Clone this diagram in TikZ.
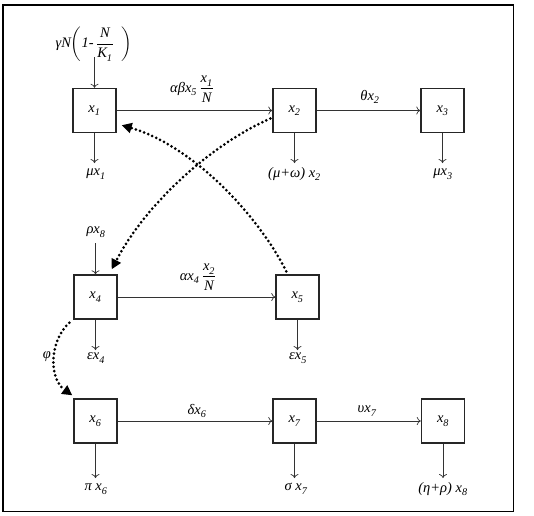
\documentclass[tikz,border=0pt]{standalone}
\usepackage{amsmath}
\usepackage{fontspec}
\setmainfont{Liberation Serif}
\usetikzlibrary{arrows.meta}
\newcommand{\vs}[2]{#1\textsubscript{\raisebox{-0.3ex}{#2}}}
\begin{document}
\begin{tikzpicture}[x=1pt,y=-1pt,
  font=\fontsize{14.5}{16}\selectfont\itshape,
  box/.style={draw=black!85, line width=1.4pt, minimum width=43pt, minimum height=44pt, inner sep=0pt},
  flow/.style={-{To[length=4pt,width=8pt]}, line width=0.7pt, draw=black!80},
  fb/.style={line width=3pt, dash pattern=on 0pt off 4.4pt, line cap=round, -{Triangle[length=10pt,width=10pt]}},
  lbl/.style={inner sep=1pt}]
\useasboundingbox (0,0) rectangle (534,515);
\draw[line width=1.2pt] (3,5) rectangle (513.5,511.5);
% boxes
\node[box] (x1) at (94.5,110.5) {\vs{x}{1}};
\node[box] (x2) at (294.5,110.5) {\vs{x}{2}};
\node[box] (x3) at (442.5,110.5) {\vs{x}{3}};
\node[box] (x4) at (95.5,297) {\vs{x}{4}};
\node[box] (x5) at (297.5,297) {\vs{x}{5}};
\node[box] (x6) at (95.5,421) {\vs{x}{6}};
\node[box] (x7) at (294.5,421) {\vs{x}{7}};
\node[box] (x8) at (443,421) {\vs{x}{8}};
% transfers
\draw[flow] (x1) -- (x2);
\draw[flow] (x2) -- (x3);
\draw[flow] (x4) -- (x5);
\draw[flow] (x6) -- (x7);
\draw[flow] (x7) -- (x8);
\node[lbl] (l12) at (192,89) {αβ\vs{x}{5}\,$\dfrac{\text{\vs{x}{1}}}{\text{N}}$};
\node[lbl] (l23) at (370,97) {θ\vs{x}{2}};
\node[lbl] (l45) at (198,277) {α\vs{x}{4}\,$\dfrac{\text{\vs{x}{2}}}{\text{N}}$};
\node[lbl] (l67) at (197,411) {δ\vs{x}{6}};
\node[lbl] (l78) at (367,411) {υ\vs{x}{7}};
% inflows
\node[lbl] (gin) at (94,44) {γN$\biggl($1-\,$\dfrac{\text{N}}{\text{\vs{K}{1}}}$\;\;$\biggr)$};
\coordinate (gs) at (94.5,57);
\draw[flow] (gs) -- (x1.north);
\node[lbl] (rin) at (96,232) {ρ\vs{x}{8}};
\coordinate (rs) at (95.5,243);
\draw[flow] (rs) -- (x4.north);
% outflows
\coordinate (o1) at (94.5,163); \draw[flow] (x1.south) -- (o1);
\node[lbl] (m1) at (96,174) {μ\vs{x}{1}};
\coordinate (o2) at (294.5,163); \draw[flow] (x2.south) -- (o2);
\node[lbl] (m2) at (294.5,174) {(μ+ω) \vs{x}{2}};
\coordinate (o3) at (442.5,163); \draw[flow] (x3.south) -- (o3);
\node[lbl] (m3) at (443,174) {μ\vs{x}{3}};
\coordinate (o4) at (95.5,350); \draw[flow] (x4.south) -- (o4);
\node[lbl] (m4) at (96,358) {ε\vs{x}{4}};
\coordinate (o5) at (297.5,350); \draw[flow] (x5.south) -- (o5);
\node[lbl] (m5) at (298,358) {ε\vs{x}{5}};
\coordinate (o6) at (95.5,478); \draw[flow] (x6.south) -- (o6);
\node[lbl] (m6) at (96,489) {π \vs{x}{6}};
\coordinate (o7) at (294.5,478); \draw[flow] (x7.south) -- (o7);
\node[lbl] (m7) at (296,489) {σ \vs{x}{7}};
\coordinate (o8) at (443,478); \draw[flow] (x8.south) -- (o8);
\node[lbl] (m8) at (443,489) {(η+ρ) \vs{x}{8}};
% feedback dotted curves
\draw[fb] ([xshift=11pt,yshift=3pt]x5.north west) .. controls (255,210) and (190,145) .. ([xshift=5pt,yshift=8pt]x1.south east);
\draw[fb] ([xshift=-2pt,yshift=-8pt]x2.west) .. controls (210,145) and (145,205) .. ([xshift=-6pt,yshift=5pt]x4.north east);
\draw[fb] ([xshift=-4pt,yshift=-3pt]x4.south west) .. controls (50,340) and (48,378) .. ([xshift=-1pt,yshift=3pt]x6.north west);
\node[lbl] (phi) at (47,357) {φ};
\end{tikzpicture}
\end{document}
